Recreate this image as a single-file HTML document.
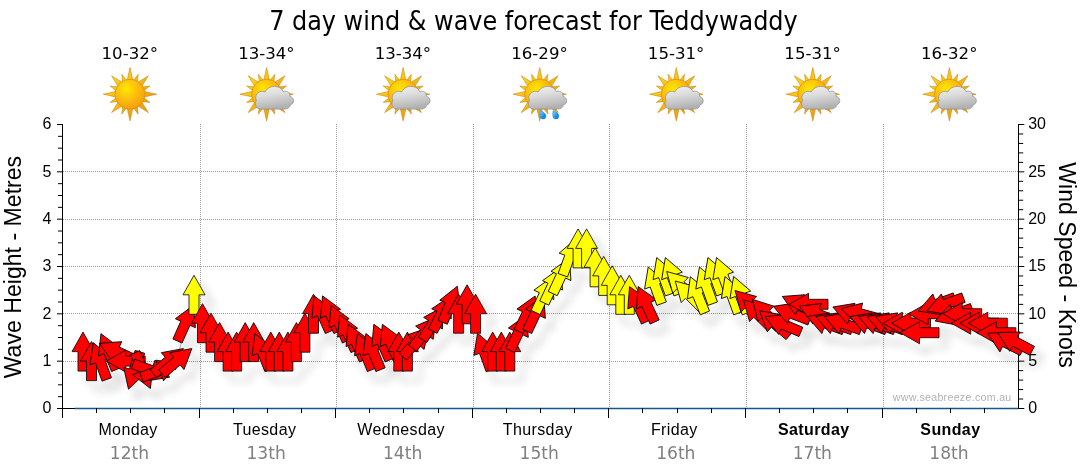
<!DOCTYPE html>
<html lang="en"><head><meta charset="utf-8"><title>7 day wind &amp; wave forecast for Teddywaddy</title>
<style>html,body{margin:0;padding:0;background:#fff;overflow:hidden}svg{display:block}.t{font-family:"DejaVu Sans Condensed","DejaVu Sans","Liberation Sans",sans-serif}.a{font-family:"Liberation Sans",Arial,sans-serif}</style></head><body>
<svg width="1080" height="475" viewBox="0 0 1080 475">
<defs>
<radialGradient id="gs" cx="0.38" cy="0.32" r="0.75"><stop offset="0" stop-color="#ffe800"/><stop offset="0.5" stop-color="#fcbc0e"/><stop offset="1" stop-color="#f39a10"/></radialGradient>
<linearGradient id="gr" gradientUnits="userSpaceOnUse" x1="-19" y1="-19" x2="19" y2="19"><stop offset="0" stop-color="#ffd814"/><stop offset="0.5" stop-color="#f8b416"/><stop offset="1" stop-color="#ee9414"/></linearGradient>
<linearGradient id="gc" x1="0" y1="0" x2="0.25" y2="1"><stop offset="0" stop-color="#f2f2f2"/><stop offset="0.45" stop-color="#dcdcdc"/><stop offset="1" stop-color="#b2b2b2"/></linearGradient>
<linearGradient id="gd" x1="0" y1="0" x2="1" y2="1"><stop offset="0" stop-color="#8fd4ff"/><stop offset="0.6" stop-color="#1e93e6"/><stop offset="1" stop-color="#0a78cf"/></linearGradient>
<filter id="sh" x="-5%" y="-20%" width="110%" height="150%"><feMorphology in="SourceAlpha" operator="erode" radius="0.6" result="e"/><feComposite in="SourceAlpha" in2="e" operator="out" result="ring"/><feGaussianBlur in="ring" stdDeviation="4"/><feOffset dx="8" dy="9.5"/><feComponentTransfer result="s"><feFuncA type="linear" slope="0.45"/></feComponentTransfer><feMerge><feMergeNode in="s"/><feMergeNode in="SourceGraphic"/></feMerge></filter>
<g id="sun"><path d="M-3.0 -13.2 L0.0 -26.7 L3.0 -13.2 L3.0 -13.2 L8.2 -19.9 L7.2 -11.4 L7.2 -11.4 L18.4 -18.4 L11.4 -7.2 L11.4 -7.2 L19.9 -8.2 L13.2 -3.0 L13.2 -3.0 L26.7 0.0 L13.2 3.0 L13.2 3.0 L19.9 8.2 L11.4 7.2 L11.4 7.2 L18.4 18.4 L7.2 11.4 L7.2 11.4 L8.2 19.9 L3.0 13.2 L3.0 13.2 L0.0 26.7 L-3.0 13.2 L-3.0 13.2 L-8.2 19.9 L-7.2 11.4 L-7.2 11.4 L-18.4 18.4 L-11.4 7.2 L-11.4 7.2 L-19.9 8.2 L-13.2 3.0 L-13.2 3.0 L-26.7 0.0 L-13.2 -3.0 L-13.2 -3.0 L-19.9 -8.2 L-11.4 -7.2 L-11.4 -7.2 L-18.4 -18.4 L-7.2 -11.4 L-7.2 -11.4 L-8.2 -19.9 L-3.0 -13.2Z" fill="url(#gr)" stroke="#c98a10" stroke-width="0.6"/><circle r="15" fill="url(#gs)" stroke="#d58f0d" stroke-width="0.7"/></g>
<g id="cloud"><path d="M-5.5 14.9 C-10.5 14.9 -12.6 10 -10.2 6.2 C-13 1 -7 -5 -1.5 -2.2 C1.5 -9.4 14 -9.8 16.6 -2.6 C20.8 -4.2 24 -1.2 23.2 2.2 C28.2 3 28 9.8 23.8 10.6 C23.4 13.4 20.8 14.9 18 14.9 Z" fill="url(#gc)" stroke="#8e8e8e" stroke-width="0.7"/></g>
<g id="drop"><path d="M-2.8 -4 C-0.4 -3.5 3 -0.9 3 1.3 A3.05 3.05 0 0 1 -3.1 1.5 C-3.4 -0.5 -3.3 -2.4 -2.8 -4Z" fill="url(#gd)" stroke="#1679c4" stroke-width="0.4"/></g>
</defs>
<rect width="1080" height="475" fill="#fff"/>
<text class="t" x="269.2" y="29.6" font-size="26.67" textLength="528.5" lengthAdjust="spacingAndGlyphs" fill="#000">7 day wind &amp; wave forecast for Teddywaddy</text>
<text class="t" x="129.8" y="59.1" font-size="16" text-anchor="middle" textLength="56.5" lengthAdjust="spacingAndGlyphs" fill="#000">10-32°</text>
<use href="#sun" x="130.0" y="94.2"/>
<text class="t" x="266.4" y="59.1" font-size="16" text-anchor="middle" textLength="56.5" lengthAdjust="spacingAndGlyphs" fill="#000">13-34°</text>
<use href="#sun" x="266.6" y="94.2"/>
<use href="#cloud" x="266.6" y="94.2"/>
<text class="t" x="402.9" y="59.1" font-size="16" text-anchor="middle" textLength="56.5" lengthAdjust="spacingAndGlyphs" fill="#000">13-34°</text>
<use href="#sun" x="403.1" y="94.2"/>
<use href="#cloud" x="403.1" y="94.2"/>
<text class="t" x="539.5" y="59.1" font-size="16" text-anchor="middle" textLength="56.5" lengthAdjust="spacingAndGlyphs" fill="#000">16-29°</text>
<use href="#sun" x="539.7" y="94.2"/>
<use href="#cloud" x="539.7" y="94.2"/>
<use href="#drop" x="543.0" y="114.6"/><use href="#drop" x="555.9" y="114.6"/>
<text class="t" x="676.1" y="59.1" font-size="16" text-anchor="middle" textLength="56.5" lengthAdjust="spacingAndGlyphs" fill="#000">15-31°</text>
<use href="#sun" x="676.3" y="94.2"/>
<use href="#cloud" x="676.3" y="94.2"/>
<text class="t" x="812.6" y="59.1" font-size="16" text-anchor="middle" textLength="56.5" lengthAdjust="spacingAndGlyphs" fill="#000">15-31°</text>
<use href="#sun" x="812.8" y="94.2"/>
<use href="#cloud" x="812.8" y="94.2"/>
<text class="t" x="949.2" y="59.1" font-size="16" text-anchor="middle" textLength="56.5" lengthAdjust="spacingAndGlyphs" fill="#000">16-32°</text>
<use href="#sun" x="949.4" y="94.2"/>
<use href="#cloud" x="949.4" y="94.2"/>
<path d="M63 361.5H1018M63 313.5H1018M63 266.5H1018M63 219.5H1018M63 171.5H1018M200.5 124V408M336.5 124V408M473.5 124V408M609.5 124V408M746.5 124V408M883.5 124V408" stroke="#9a9a9a" stroke-width="1" stroke-dasharray="1 1" fill="none" shape-rendering="crispEdges"/>
<path d="M74.8 408.5H1018" stroke="#17558a" stroke-width="1.5" fill="none"/>
<path d="M62.5 124V418M1018.5 124V409M57 408.5H75" stroke="#000" stroke-width="1" fill="none" shape-rendering="crispEdges"/>
<path d="M57 408.50H62M58 396.67H62M58 384.83H62M58 373.00H62M57 361.17H62M58 349.33H62M58 337.50H62M58 325.67H62M57 313.83H62M58 302.00H62M58 290.17H62M58 278.33H62M57 266.50H62M58 254.67H62M58 242.83H62M58 231.00H62M57 219.17H62M58 207.33H62M58 195.50H62M58 183.67H62M57 171.83H62M58 160.00H62M58 148.17H62M58 136.33H62M57 124.50H62M1019 408.50H1024.3M1019 399.03H1023.2M1019 389.57H1023.2M1019 380.10H1023.2M1019 370.63H1023.2M1019 361.17H1024.3M1019 351.70H1023.2M1019 342.23H1023.2M1019 332.77H1023.2M1019 323.30H1023.2M1019 313.83H1024.3M1019 304.37H1023.2M1019 294.90H1023.2M1019 285.43H1023.2M1019 275.97H1023.2M1019 266.50H1024.3M1019 257.03H1023.2M1019 247.57H1023.2M1019 238.10H1023.2M1019 228.63H1023.2M1019 219.17H1024.3M1019 209.70H1023.2M1019 200.23H1023.2M1019 190.77H1023.2M1019 181.30H1023.2M1019 171.83H1024.3M1019 162.37H1023.2M1019 152.90H1023.2M1019 143.43H1023.2M1019 133.97H1023.2M1019 124.50H1024.3" stroke="#000" stroke-width="1" fill="none"/>
<path d="M62.5 408V418M96.5 408V413M130.5 408V413M164.5 408V413M199.5 408V418M233.5 408V413M267.5 408V413M301.5 408V413M335.5 408V418M369.5 408V413M403.5 408V413M438.5 408V413M472.5 408V418M506.5 408V413M540.5 408V413M574.5 408V413M608.5 408V418M642.5 408V413M677.5 408V413M711.5 408V413M745.5 408V418M779.5 408V413M813.5 408V413M847.5 408V413M882.5 408V418M916.5 408V413M950.5 408V413M984.5 408V413" stroke="#000" stroke-width="1" fill="none" shape-rendering="crispEdges"/>
<text class="a" x="51.3" y="412.8" font-size="16" text-anchor="end" fill="#000">0</text>
<text class="a" x="1028.2" y="412.8" font-size="16" fill="#000">0</text>
<text class="a" x="51.3" y="365.8" font-size="16" text-anchor="end" fill="#000">1</text>
<text class="a" x="1028.2" y="365.8" font-size="16" fill="#000">5</text>
<text class="a" x="51.3" y="318.8" font-size="16" text-anchor="end" fill="#000">2</text>
<text class="a" x="1028.2" y="318.8" font-size="16" fill="#000">10</text>
<text class="a" x="51.3" y="270.8" font-size="16" text-anchor="end" fill="#000">3</text>
<text class="a" x="1028.2" y="270.8" font-size="16" fill="#000">15</text>
<text class="a" x="51.3" y="223.8" font-size="16" text-anchor="end" fill="#000">4</text>
<text class="a" x="1028.2" y="223.8" font-size="16" fill="#000">20</text>
<text class="a" x="51.3" y="176.8" font-size="16" text-anchor="end" fill="#000">5</text>
<text class="a" x="1028.2" y="176.8" font-size="16" fill="#000">25</text>
<text class="a" x="51.3" y="128.8" font-size="16" text-anchor="end" fill="#000">6</text>
<text class="a" x="1028.2" y="128.8" font-size="16" fill="#000">30</text>
<text class="a" font-size="23" text-anchor="middle" textLength="222.5" lengthAdjust="spacingAndGlyphs" transform="translate(20.7,267.1) rotate(-90)" fill="#000">Wave Height - Metres</text>
<text class="a" font-size="23" text-anchor="middle" textLength="205.5" lengthAdjust="spacingAndGlyphs" transform="translate(1059.3,265) rotate(90)" fill="#000">Wind Speed - Knots</text>
<text class="a" x="128.0" y="435" font-size="16" letter-spacing="0.38" text-anchor="middle" fill="#000">Monday</text>
<text class="t" x="129.5" y="458.7" font-size="17.33" text-anchor="middle" textLength="39.3" lengthAdjust="spacingAndGlyphs" fill="#808080">12th</text>
<text class="a" x="264.6" y="435" font-size="16" letter-spacing="0.38" text-anchor="middle" fill="#000">Tuesday</text>
<text class="t" x="266.1" y="458.7" font-size="17.33" text-anchor="middle" textLength="39.3" lengthAdjust="spacingAndGlyphs" fill="#808080">13th</text>
<text class="a" x="401.1" y="435" font-size="16" letter-spacing="0.38" text-anchor="middle" fill="#000">Wednesday</text>
<text class="t" x="402.6" y="458.7" font-size="17.33" text-anchor="middle" textLength="39.3" lengthAdjust="spacingAndGlyphs" fill="#808080">14th</text>
<text class="a" x="537.7" y="435" font-size="16" letter-spacing="0.38" text-anchor="middle" fill="#000">Thursday</text>
<text class="t" x="539.2" y="458.7" font-size="17.33" text-anchor="middle" textLength="39.3" lengthAdjust="spacingAndGlyphs" fill="#808080">15th</text>
<text class="a" x="674.3" y="435" font-size="16" letter-spacing="0.38" text-anchor="middle" fill="#000">Friday</text>
<text class="t" x="675.8" y="458.7" font-size="17.33" text-anchor="middle" textLength="39.3" lengthAdjust="spacingAndGlyphs" fill="#808080">16th</text>
<text class="a" x="813.8" y="435" font-size="16" letter-spacing="0.38" text-anchor="middle" font-weight="bold" fill="#000">Saturday</text>
<text class="t" x="812.3" y="458.7" font-size="17.33" text-anchor="middle" textLength="39.3" lengthAdjust="spacingAndGlyphs" fill="#808080">17th</text>
<text class="a" x="950.4" y="435" font-size="16" letter-spacing="0.38" text-anchor="middle" font-weight="bold" fill="#000">Sunday</text>
<text class="t" x="948.9" y="458.7" font-size="17.33" text-anchor="middle" textLength="39.3" lengthAdjust="spacingAndGlyphs" fill="#808080">18th</text>
<text class="a" x="892.8" y="400.8" font-size="10.67" textLength="118.5" lengthAdjust="spacing" fill="#b2b2b2">www.seabreeze.com.au</text>
<path d="M83.0 351.6 L91.5 361.1 L100.1 361.1 L108.6 351.6 L117.1 351.6 L125.7 361.1 L134.2 370.5 L142.8 370.5 L151.3 370.5 L159.8 370.5 L168.4 361.1 L176.9 361.1 L185.4 323.2 L194.0 294.8 L202.5 323.2 L211.0 332.7 L219.6 342.1 L228.1 351.6 L236.6 351.6 L245.2 342.1 L253.7 342.1 L262.2 351.6 L270.8 351.6 L279.3 351.6 L287.9 351.6 L296.4 342.1 L304.9 332.7 L313.5 313.7 L322.0 313.7 L330.5 313.7 L339.1 323.2 L347.6 332.7 L356.1 342.1 L364.7 351.6 L373.2 351.6 L381.8 342.1 L390.3 342.1 L398.8 351.6 L407.4 351.6 L415.9 342.1 L424.4 332.7 L433.0 323.2 L441.5 313.7 L450.0 304.3 L458.6 313.7 L467.1 304.3 L475.6 313.7 L484.2 351.6 L492.7 351.6 L501.3 351.6 L509.8 351.6 L518.3 332.7 L526.9 313.7 L535.4 313.7 L543.9 294.8 L552.5 285.3 L561.0 275.9 L569.5 256.9 L578.1 248.4 L586.6 248.4 L595.1 267.3 L603.7 275.9 L612.2 285.3 L620.8 294.8 L629.3 294.8 L637.8 304.3 L646.4 304.3 L654.9 285.3 L663.4 275.9 L672.0 275.9 L680.5 285.3 L689.0 294.8 L697.6 294.8 L706.1 285.3 L714.6 275.9 L723.2 275.9 L731.7 294.8 L740.3 294.8 L748.8 304.3 L757.3 313.7 L765.9 313.7 L774.4 323.2 L782.9 324.3 L791.5 313.3 L800.0 304.7 L808.5 304.3 L817.1 313.7 L825.6 323.2 L834.1 323.2 L842.7 323.2 L851.2 313.7 L859.8 313.7 L868.3 323.2 L876.8 323.2 L885.4 323.2 L893.9 323.2 L902.4 323.2 L911.0 323.2 L919.5 332.7 L928.0 313.7 L936.6 304.3 L945.1 304.3 L953.6 314.7 L962.2 313.7 L970.7 323.2 L979.3 323.2 L987.8 323.2 L996.3 332.7 L1004.9 342.1 L1014.9 341.7" stroke="#b9b9b9" stroke-width="1" fill="none"/>
<g filter="url(#sh)" stroke="#000" stroke-width="0.8" stroke-linejoin="miter"><path transform="translate(83.0 351.6) rotate(0)" fill="#ff0000" d="M0 -19.5L11 0H5V19.5H-5V0H-11Z"/>
<path transform="translate(91.5 361.1) rotate(0)" fill="#ff0000" d="M0 -19.5L11 0H5V19.5H-5V0H-11Z"/>
<path transform="translate(100.1 361.1) rotate(-20)" fill="#ff0000" d="M0 -19.5L11 0H5V19.5H-5V0H-11Z"/>
<path transform="translate(108.6 351.6) rotate(-23)" fill="#ff0000" d="M0 -19.5L11 0H5V19.5H-5V0H-11Z"/>
<path transform="translate(117.1 351.6) rotate(-65)" fill="#ff0000" d="M0 -19.5L11 0H5V19.5H-5V0H-11Z"/>
<path transform="translate(125.7 361.1) rotate(-90)" fill="#ff0000" d="M0 -19.5L11 0H5V19.5H-5V0H-11Z"/>
<path transform="translate(134.2 370.5) rotate(197)" fill="#ff0000" d="M0 -19.5L11 0H5V19.5H-5V0H-11Z"/>
<path transform="translate(142.8 370.5) rotate(157)" fill="#ff0000" d="M0 -19.5L11 0H5V19.5H-5V0H-11Z"/>
<path transform="translate(151.3 370.5) rotate(110)" fill="#ff0000" d="M0 -19.5L11 0H5V19.5H-5V0H-11Z"/>
<path transform="translate(159.8 370.5) rotate(70)" fill="#ff0000" d="M0 -19.5L11 0H5V19.5H-5V0H-11Z"/>
<path transform="translate(168.4 361.1) rotate(50)" fill="#ff0000" d="M0 -19.5L11 0H5V19.5H-5V0H-11Z"/>
<path transform="translate(176.9 361.1) rotate(50)" fill="#ff0000" d="M0 -19.5L11 0H5V19.5H-5V0H-11Z"/>
<path transform="translate(185.4 323.2) rotate(24)" fill="#ff0000" d="M0 -19.5L11 0H5V19.5H-5V0H-11Z"/>
<path transform="translate(194.0 294.8) rotate(0)" fill="#ffff00" d="M0 -19.5L11 0H5V19.5H-5V0H-11Z"/>
<path transform="translate(202.5 323.2) rotate(0)" fill="#ff0000" d="M0 -19.5L11 0H5V19.5H-5V0H-11Z"/>
<path transform="translate(211.0 332.7) rotate(0)" fill="#ff0000" d="M0 -19.5L11 0H5V19.5H-5V0H-11Z"/>
<path transform="translate(219.6 342.1) rotate(0)" fill="#ff0000" d="M0 -19.5L11 0H5V19.5H-5V0H-11Z"/>
<path transform="translate(228.1 351.6) rotate(0)" fill="#ff0000" d="M0 -19.5L11 0H5V19.5H-5V0H-11Z"/>
<path transform="translate(236.6 351.6) rotate(0)" fill="#ff0000" d="M0 -19.5L11 0H5V19.5H-5V0H-11Z"/>
<path transform="translate(245.2 342.1) rotate(0)" fill="#ff0000" d="M0 -19.5L11 0H5V19.5H-5V0H-11Z"/>
<path transform="translate(253.7 342.1) rotate(0)" fill="#ff0000" d="M0 -19.5L11 0H5V19.5H-5V0H-11Z"/>
<path transform="translate(262.2 351.6) rotate(-22)" fill="#ff0000" d="M0 -19.5L11 0H5V19.5H-5V0H-11Z"/>
<path transform="translate(270.8 351.6) rotate(0)" fill="#ff0000" d="M0 -19.5L11 0H5V19.5H-5V0H-11Z"/>
<path transform="translate(279.3 351.6) rotate(0)" fill="#ff0000" d="M0 -19.5L11 0H5V19.5H-5V0H-11Z"/>
<path transform="translate(287.9 351.6) rotate(0)" fill="#ff0000" d="M0 -19.5L11 0H5V19.5H-5V0H-11Z"/>
<path transform="translate(296.4 342.1) rotate(0)" fill="#ff0000" d="M0 -19.5L11 0H5V19.5H-5V0H-11Z"/>
<path transform="translate(304.9 332.7) rotate(0)" fill="#ff0000" d="M0 -19.5L11 0H5V19.5H-5V0H-11Z"/>
<path transform="translate(313.5 313.7) rotate(0)" fill="#ff0000" d="M0 -19.5L11 0H5V19.5H-5V0H-11Z"/>
<path transform="translate(322.0 313.7) rotate(-24)" fill="#ff0000" d="M0 -19.5L11 0H5V19.5H-5V0H-11Z"/>
<path transform="translate(330.5 313.7) rotate(-24)" fill="#ff0000" d="M0 -19.5L11 0H5V19.5H-5V0H-11Z"/>
<path transform="translate(339.1 323.2) rotate(-24)" fill="#ff0000" d="M0 -19.5L11 0H5V19.5H-5V0H-11Z"/>
<path transform="translate(347.6 332.7) rotate(-24)" fill="#ff0000" d="M0 -19.5L11 0H5V19.5H-5V0H-11Z"/>
<path transform="translate(356.1 342.1) rotate(-24)" fill="#ff0000" d="M0 -19.5L11 0H5V19.5H-5V0H-11Z"/>
<path transform="translate(364.7 351.6) rotate(-22)" fill="#ff0000" d="M0 -19.5L11 0H5V19.5H-5V0H-11Z"/>
<path transform="translate(373.2 351.6) rotate(-22)" fill="#ff0000" d="M0 -19.5L11 0H5V19.5H-5V0H-11Z"/>
<path transform="translate(381.8 342.1) rotate(-24)" fill="#ff0000" d="M0 -19.5L11 0H5V19.5H-5V0H-11Z"/>
<path transform="translate(390.3 342.1) rotate(-24)" fill="#ff0000" d="M0 -19.5L11 0H5V19.5H-5V0H-11Z"/>
<path transform="translate(398.8 351.6) rotate(0)" fill="#ff0000" d="M0 -19.5L11 0H5V19.5H-5V0H-11Z"/>
<path transform="translate(407.4 351.6) rotate(0)" fill="#ff0000" d="M0 -19.5L11 0H5V19.5H-5V0H-11Z"/>
<path transform="translate(415.9 342.1) rotate(42)" fill="#ff0000" d="M0 -19.5L11 0H5V19.5H-5V0H-11Z"/>
<path transform="translate(424.4 332.7) rotate(37)" fill="#ff0000" d="M0 -19.5L11 0H5V19.5H-5V0H-11Z"/>
<path transform="translate(433.0 323.2) rotate(32)" fill="#ff0000" d="M0 -19.5L11 0H5V19.5H-5V0H-11Z"/>
<path transform="translate(441.5 313.7) rotate(27)" fill="#ff0000" d="M0 -19.5L11 0H5V19.5H-5V0H-11Z"/>
<path transform="translate(450.0 304.3) rotate(22)" fill="#ff0000" d="M0 -19.5L11 0H5V19.5H-5V0H-11Z"/>
<path transform="translate(458.6 313.7) rotate(0)" fill="#ff0000" d="M0 -19.5L11 0H5V19.5H-5V0H-11Z"/>
<path transform="translate(467.1 304.3) rotate(0)" fill="#ff0000" d="M0 -19.5L11 0H5V19.5H-5V0H-11Z"/>
<path transform="translate(475.6 313.7) rotate(0)" fill="#ff0000" d="M0 -19.5L11 0H5V19.5H-5V0H-11Z"/>
<path transform="translate(484.2 351.6) rotate(-20)" fill="#ff0000" d="M0 -19.5L11 0H5V19.5H-5V0H-11Z"/>
<path transform="translate(492.7 351.6) rotate(0)" fill="#ff0000" d="M0 -19.5L11 0H5V19.5H-5V0H-11Z"/>
<path transform="translate(501.3 351.6) rotate(0)" fill="#ff0000" d="M0 -19.5L11 0H5V19.5H-5V0H-11Z"/>
<path transform="translate(509.8 351.6) rotate(0)" fill="#ff0000" d="M0 -19.5L11 0H5V19.5H-5V0H-11Z"/>
<path transform="translate(518.3 332.7) rotate(25)" fill="#ff0000" d="M0 -19.5L11 0H5V19.5H-5V0H-11Z"/>
<path transform="translate(526.9 313.7) rotate(25)" fill="#ff0000" d="M0 -19.5L11 0H5V19.5H-5V0H-11Z"/>
<path transform="translate(535.4 313.7) rotate(25)" fill="#ff0000" d="M0 -19.5L11 0H5V19.5H-5V0H-11Z"/>
<path transform="translate(543.9 294.8) rotate(25)" fill="#ffff00" d="M0 -19.5L11 0H5V19.5H-5V0H-11Z"/>
<path transform="translate(552.5 285.3) rotate(25)" fill="#ffff00" d="M0 -19.5L11 0H5V19.5H-5V0H-11Z"/>
<path transform="translate(561.0 275.9) rotate(25)" fill="#ffff00" d="M0 -19.5L11 0H5V19.5H-5V0H-11Z"/>
<path transform="translate(569.5 256.9) rotate(20)" fill="#ffff00" d="M0 -19.5L11 0H5V19.5H-5V0H-11Z"/>
<path transform="translate(578.1 248.4) rotate(0)" fill="#ffff00" d="M0 -19.5L11 0H5V19.5H-5V0H-11Z"/>
<path transform="translate(586.6 248.4) rotate(0)" fill="#ffff00" d="M0 -19.5L11 0H5V19.5H-5V0H-11Z"/>
<path transform="translate(595.1 267.3) rotate(0)" fill="#ffff00" d="M0 -19.5L11 0H5V19.5H-5V0H-11Z"/>
<path transform="translate(603.7 275.9) rotate(0)" fill="#ffff00" d="M0 -19.5L11 0H5V19.5H-5V0H-11Z"/>
<path transform="translate(612.2 285.3) rotate(0)" fill="#ffff00" d="M0 -19.5L11 0H5V19.5H-5V0H-11Z"/>
<path transform="translate(620.8 294.8) rotate(0)" fill="#ffff00" d="M0 -19.5L11 0H5V19.5H-5V0H-11Z"/>
<path transform="translate(629.3 294.8) rotate(0)" fill="#ffff00" d="M0 -19.5L11 0H5V19.5H-5V0H-11Z"/>
<path transform="translate(637.8 304.3) rotate(-25)" fill="#ff0000" d="M0 -19.5L11 0H5V19.5H-5V0H-11Z"/>
<path transform="translate(646.4 304.3) rotate(-25)" fill="#ff0000" d="M0 -19.5L11 0H5V19.5H-5V0H-11Z"/>
<path transform="translate(654.9 285.3) rotate(-20)" fill="#ffff00" d="M0 -19.5L11 0H5V19.5H-5V0H-11Z"/>
<path transform="translate(663.4 275.9) rotate(-20)" fill="#ffff00" d="M0 -19.5L11 0H5V19.5H-5V0H-11Z"/>
<path transform="translate(672.0 275.9) rotate(-20)" fill="#ffff00" d="M0 -19.5L11 0H5V19.5H-5V0H-11Z"/>
<path transform="translate(680.5 285.3) rotate(-45)" fill="#ffff00" d="M0 -19.5L11 0H5V19.5H-5V0H-11Z"/>
<path transform="translate(689.0 294.8) rotate(-45)" fill="#ffff00" d="M0 -19.5L11 0H5V19.5H-5V0H-11Z"/>
<path transform="translate(697.6 294.8) rotate(-22)" fill="#ffff00" d="M0 -19.5L11 0H5V19.5H-5V0H-11Z"/>
<path transform="translate(706.1 285.3) rotate(-20)" fill="#ffff00" d="M0 -19.5L11 0H5V19.5H-5V0H-11Z"/>
<path transform="translate(714.6 275.9) rotate(-20)" fill="#ffff00" d="M0 -19.5L11 0H5V19.5H-5V0H-11Z"/>
<path transform="translate(723.2 275.9) rotate(-20)" fill="#ffff00" d="M0 -19.5L11 0H5V19.5H-5V0H-11Z"/>
<path transform="translate(731.7 294.8) rotate(-20)" fill="#ffff00" d="M0 -19.5L11 0H5V19.5H-5V0H-11Z"/>
<path transform="translate(740.3 294.8) rotate(-20)" fill="#ffff00" d="M0 -19.5L11 0H5V19.5H-5V0H-11Z"/>
<path transform="translate(748.8 304.3) rotate(-45)" fill="#ff0000" d="M0 -19.5L11 0H5V19.5H-5V0H-11Z"/>
<path transform="translate(757.3 313.7) rotate(-45)" fill="#ff0000" d="M0 -19.5L11 0H5V19.5H-5V0H-11Z"/>
<path transform="translate(765.9 313.7) rotate(-43)" fill="#ff0000" d="M0 -19.5L11 0H5V19.5H-5V0H-11Z"/>
<path transform="translate(774.4 323.2) rotate(-50)" fill="#ff0000" d="M0 -19.5L11 0H5V19.5H-5V0H-11Z"/>
<path transform="translate(782.9 324.3) rotate(-67)" fill="#ff0000" d="M0 -19.5L11 0H5V19.5H-5V0H-11Z"/>
<path transform="translate(791.5 313.3) rotate(-69)" fill="#ff0000" d="M0 -19.5L11 0H5V19.5H-5V0H-11Z"/>
<path transform="translate(800.0 304.7) rotate(-65)" fill="#ff0000" d="M0 -19.5L11 0H5V19.5H-5V0H-11Z"/>
<path transform="translate(808.5 304.3) rotate(-90)" fill="#ff0000" d="M0 -19.5L11 0H5V19.5H-5V0H-11Z"/>
<path transform="translate(817.1 313.7) rotate(-67)" fill="#ff0000" d="M0 -19.5L11 0H5V19.5H-5V0H-11Z"/>
<path transform="translate(825.6 323.2) rotate(-70)" fill="#ff0000" d="M0 -19.5L11 0H5V19.5H-5V0H-11Z"/>
<path transform="translate(834.1 323.2) rotate(-70)" fill="#ff0000" d="M0 -19.5L11 0H5V19.5H-5V0H-11Z"/>
<path transform="translate(842.7 323.2) rotate(-70)" fill="#ff0000" d="M0 -19.5L11 0H5V19.5H-5V0H-11Z"/>
<path transform="translate(851.2 313.7) rotate(-70)" fill="#ff0000" d="M0 -19.5L11 0H5V19.5H-5V0H-11Z"/>
<path transform="translate(859.8 313.7) rotate(-75)" fill="#ff0000" d="M0 -19.5L11 0H5V19.5H-5V0H-11Z"/>
<path transform="translate(868.3 323.2) rotate(-70)" fill="#ff0000" d="M0 -19.5L11 0H5V19.5H-5V0H-11Z"/>
<path transform="translate(876.8 323.2) rotate(-70)" fill="#ff0000" d="M0 -19.5L11 0H5V19.5H-5V0H-11Z"/>
<path transform="translate(885.4 323.2) rotate(-70)" fill="#ff0000" d="M0 -19.5L11 0H5V19.5H-5V0H-11Z"/>
<path transform="translate(893.9 323.2) rotate(-70)" fill="#ff0000" d="M0 -19.5L11 0H5V19.5H-5V0H-11Z"/>
<path transform="translate(902.4 323.2) rotate(-90)" fill="#ff0000" d="M0 -19.5L11 0H5V19.5H-5V0H-11Z"/>
<path transform="translate(911.0 323.2) rotate(-90)" fill="#ff0000" d="M0 -19.5L11 0H5V19.5H-5V0H-11Z"/>
<path transform="translate(919.5 332.7) rotate(-90)" fill="#ff0000" d="M0 -19.5L11 0H5V19.5H-5V0H-11Z"/>
<path transform="translate(928.0 313.7) rotate(-90)" fill="#ff0000" d="M0 -19.5L11 0H5V19.5H-5V0H-11Z"/>
<path transform="translate(936.6 304.3) rotate(-110)" fill="#ff0000" d="M0 -19.5L11 0H5V19.5H-5V0H-11Z"/>
<path transform="translate(945.1 304.3) rotate(-110)" fill="#ff0000" d="M0 -19.5L11 0H5V19.5H-5V0H-11Z"/>
<path transform="translate(953.6 314.7) rotate(-109)" fill="#ff0000" d="M0 -19.5L11 0H5V19.5H-5V0H-11Z"/>
<path transform="translate(962.2 313.7) rotate(-90)" fill="#ff0000" d="M0 -19.5L11 0H5V19.5H-5V0H-11Z"/>
<path transform="translate(970.7 323.2) rotate(-90)" fill="#ff0000" d="M0 -19.5L11 0H5V19.5H-5V0H-11Z"/>
<path transform="translate(979.3 323.2) rotate(-90)" fill="#ff0000" d="M0 -19.5L11 0H5V19.5H-5V0H-11Z"/>
<path transform="translate(987.8 323.2) rotate(-90)" fill="#ff0000" d="M0 -19.5L11 0H5V19.5H-5V0H-11Z"/>
<path transform="translate(996.3 332.7) rotate(-90)" fill="#ff0000" d="M0 -19.5L11 0H5V19.5H-5V0H-11Z"/>
<path transform="translate(1004.9 342.1) rotate(-63)" fill="#ff0000" d="M0 -19.5L11 0H5V19.5H-5V0H-11Z"/>
<path transform="translate(1014.9 341.7) rotate(-62)" fill="#ff0000" d="M0 -19.5L11 0H5V19.5H-5V0H-11Z"/></g>
</svg></body></html>
